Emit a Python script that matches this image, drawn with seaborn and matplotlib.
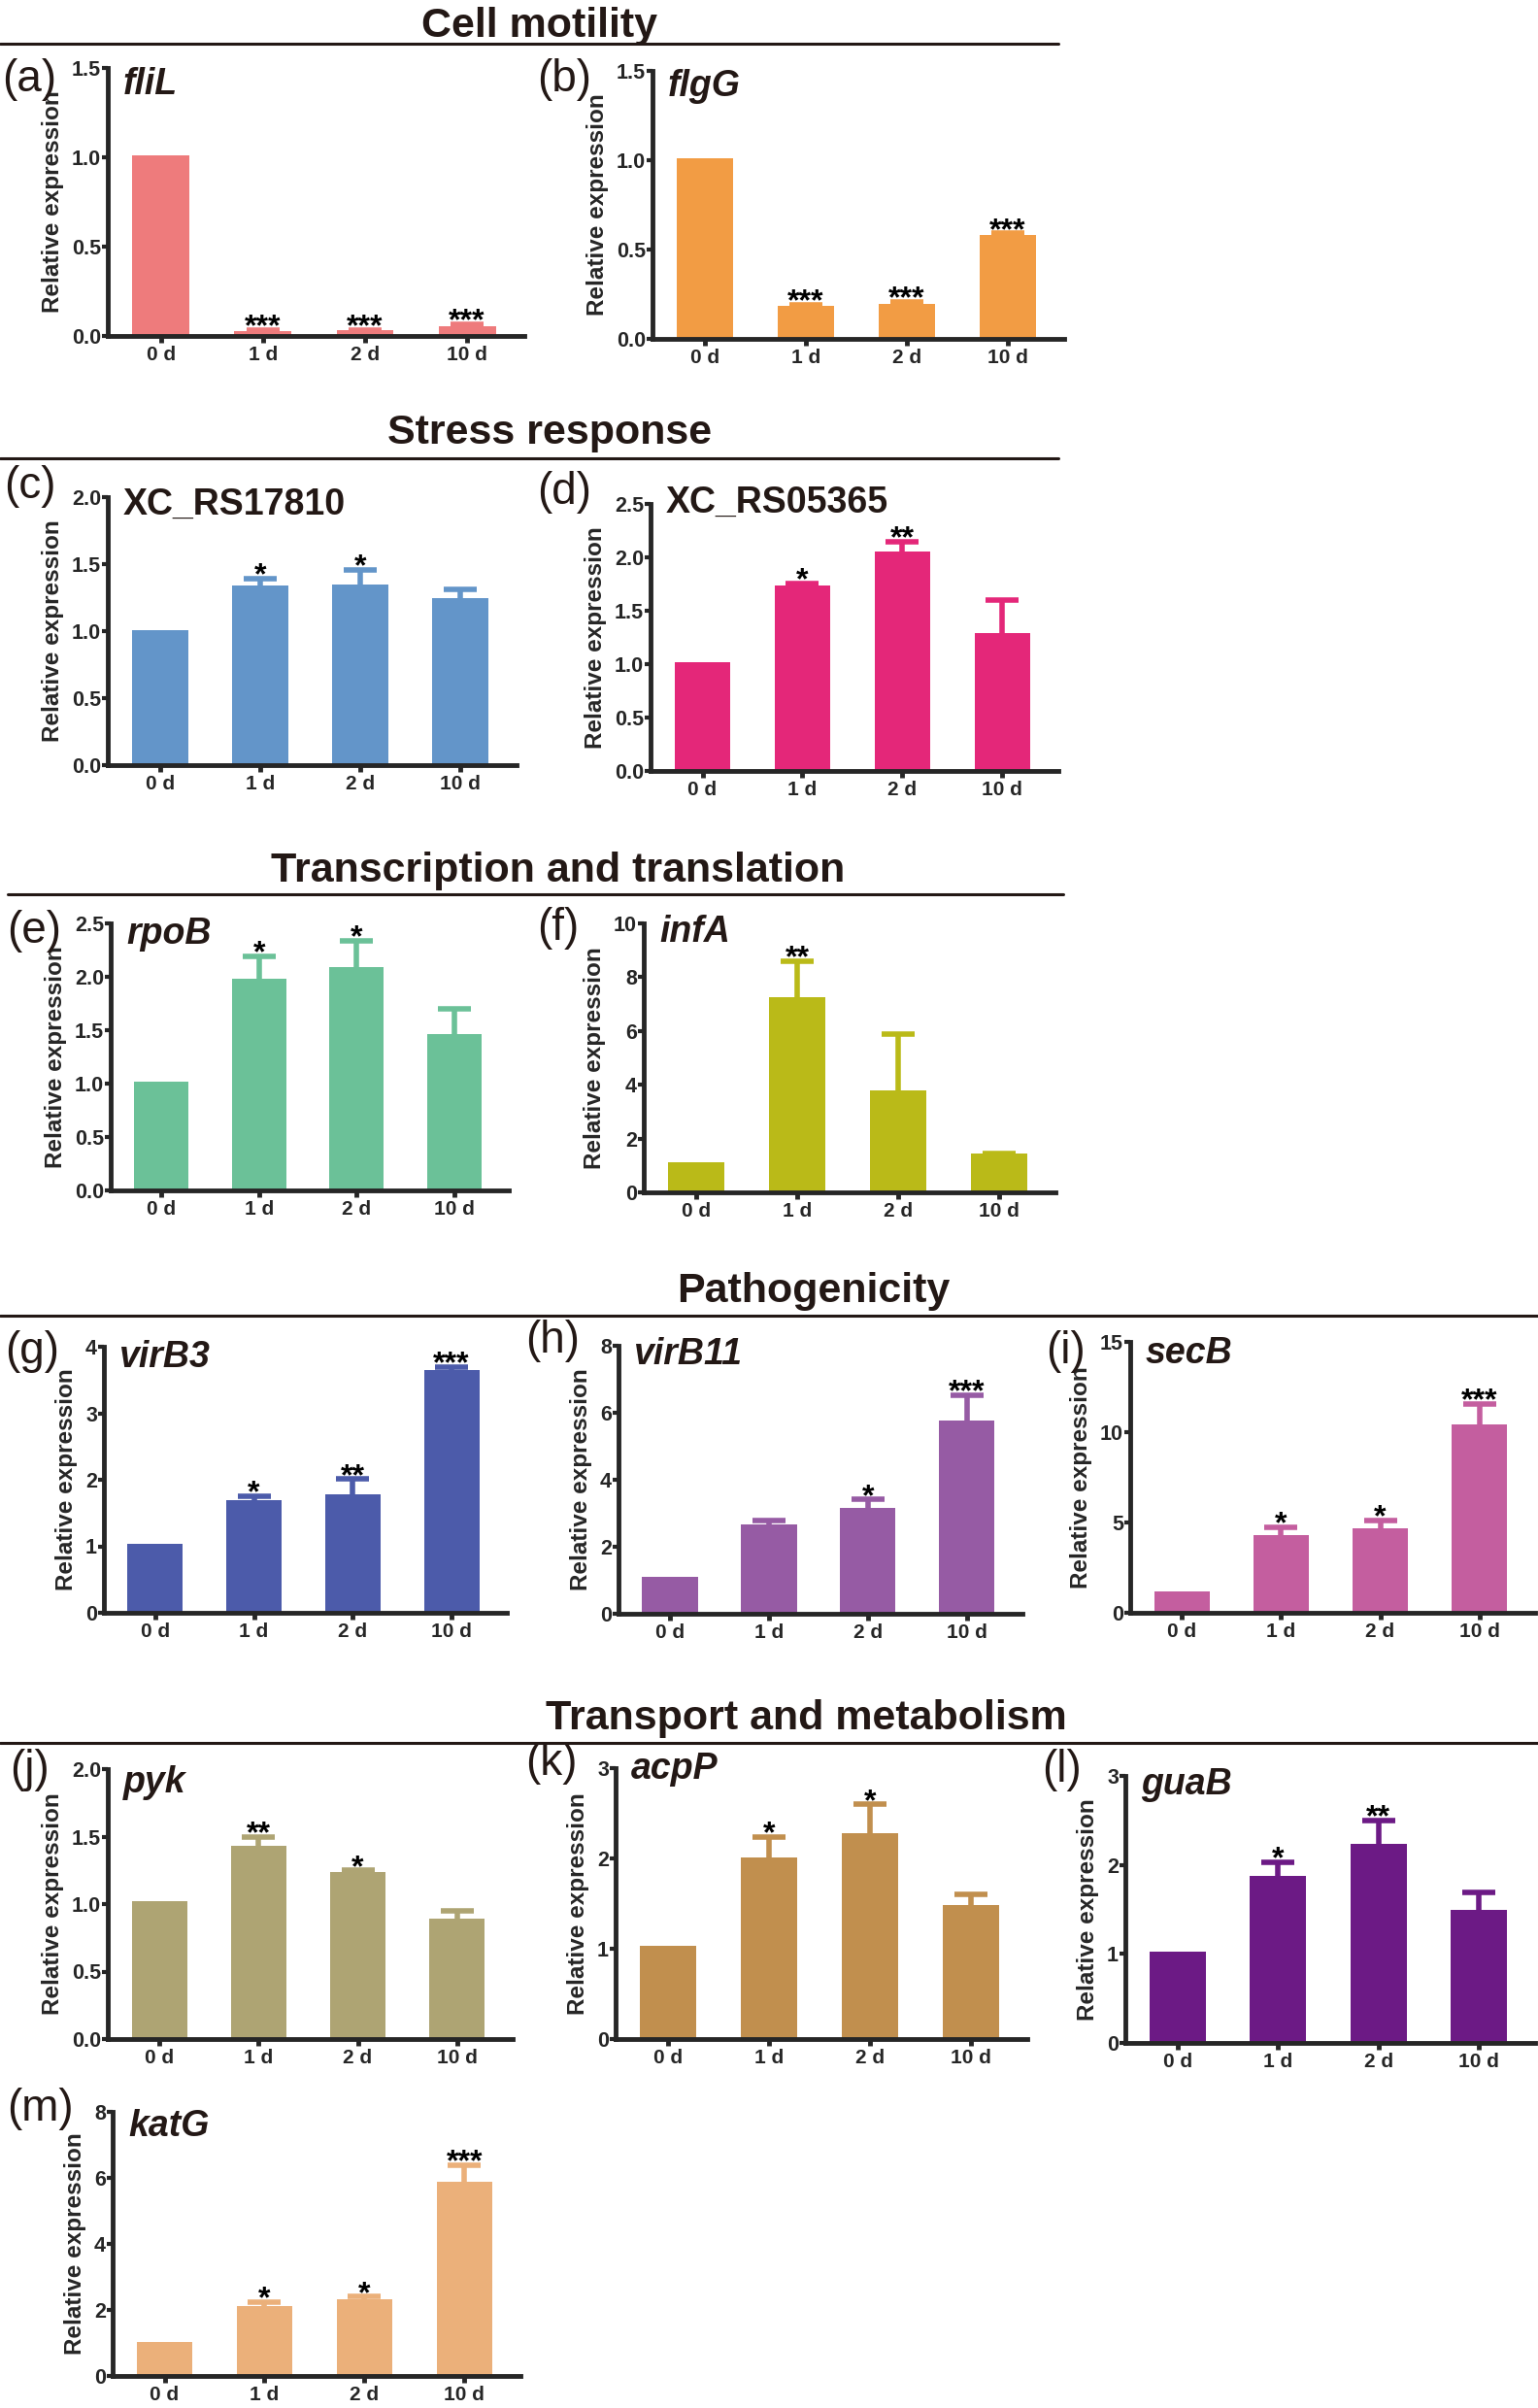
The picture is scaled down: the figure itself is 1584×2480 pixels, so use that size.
"""
qRT-PCR relative expression panels, grouped by functional category.
"""

import numpy as np
import matplotlib
matplotlib.use("Agg")
import matplotlib.pyplot as plt
from matplotlib.lines import Line2D
import seaborn as sns

# ---------------------------------------------------------------- data
days = ["0 d", "1 d", "2 d", "10 d"]

fliL_mean = [1.01, 0.028, 0.030, 0.057]
fliL_err = [0, 0.005, 0.005, 0.010]
fliL_sig = ["", "***", "***", "***"]

flgG_mean = [1.01, 0.186, 0.196, 0.58]
flgG_err = [0, 0.005, 0.010, 0.010]
flgG_sig = ["", "***", "***", "***"]

rs17810_mean = [1.01, 1.34, 1.35, 1.25]
rs17810_err = [0, 0.05, 0.11, 0.06]
rs17810_sig = ["", "*", "*", ""]

rs05365_mean = [1.02, 1.74, 2.055, 1.29]
rs05365_err = [0, 0.015, 0.095, 0.31]
rs05365_sig = ["", "*", "**", ""]

rpoB_mean = [1.02, 1.98, 2.09, 1.46]
rpoB_err = [0, 0.21, 0.25, 0.24]
rpoB_sig = ["", "*", "*", ""]

infA_mean = [1.12, 7.26, 3.78, 1.43]
infA_err = [0, 1.34, 2.11, 0.03]
infA_sig = ["", "**", "", ""]

virB3_mean = [1.03, 1.69, 1.78, 3.65]
virB3_err = [0, 0.06, 0.23, 0.05]
virB3_sig = ["", "*", "**", "***"]

virB11_mean = [1.09, 2.68, 3.15, 5.78]
virB11_err = [0, 0.11, 0.26, 0.75]
virB11_sig = ["", "", "*", "***"]

secB_mean = [1.18, 4.31, 4.67, 10.42]
secB_err = [0, 0.42, 0.46, 1.16]
secB_sig = ["", "*", "*", "***"]

pyk_mean = [1.02, 1.43, 1.24, 0.89]
pyk_err = [0, 0.07, 0.01, 0.06]
pyk_sig = ["", "**", "*", ""]

acpP_mean = [1.03, 2.01, 2.28, 1.48]
acpP_err = [0, 0.23, 0.32, 0.12]
acpP_sig = ["", "*", "*", ""]

guaB_mean = [1.03, 1.88, 2.24, 1.49]
guaB_err = [0, 0.15, 0.26, 0.20]
guaB_sig = ["", "*", "**", ""]

katG_mean = [1.03, 2.11, 2.33, 5.88]
katG_err = [0, 0.13, 0.07, 0.50]
katG_sig = ["", "*", "*", "***"]

sections = ["Cell motility", "Stress response", "Transcription and translation",
            "Pathogenicity", "Transport and metabolism"]

# ---------------------------------------------------------------- layout
FIG_W, FIG_H = 1584, 2480
TEXT = "#231815"

# (centre x, baseline y, line y, line x0, line x1) in pixels
section_layout = [
    (555, 38, 45, 0, 1090),
    (566, 457, 472, 0, 1090),
    (575, 908, 921, 8, 1095),
    (838, 1341, 1355, 0, 1584),
    (830, 1781, 1795, 0, 1584),
]

# panel: (letter, gene, italic, mean, err, sig, colour, ymax, ystep,
#         axes box L R T B, label x, label y, gene y)
panels = [
    ("(a)", "fliL", True, fliL_mean, fliL_err, fliL_sig, "#EE7B7C", 1.5, 0.5,
     (111, 540, 70, 346), 2, 82, 87),
    ("(b)", "flgG", True, flgG_mean, flgG_err, flgG_sig, "#F29C44", 1.5, 0.5,
     (672, 1096, 73, 349), 553, 82, 89),
    ("(c)", "XC_RS17810", False, rs17810_mean, rs17810_err, rs17810_sig, "#6395C9", 2.0, 0.5,
     (111, 532, 512, 788), 4, 501, 520),
    ("(d)", "XC_RS05365", False, rs05365_mean, rs05365_err, rs05365_sig, "#E42779", 2.5, 0.5,
     (670, 1090, 519, 794), 553, 507, 518),
    ("(e)", "rpoB", True, rpoB_mean, rpoB_err, rpoB_sig, "#6BC198", 2.5, 0.5,
     (114, 524, 951, 1226), 7, 959, 962),
    ("(f)", "infA", True, infA_mean, infA_err, infA_sig, "#BABA18", 10, 2,
     (663, 1087, 951, 1228), 553, 956, 960),
    ("(g)", "virB3", True, virB3_mean, virB3_err, virB3_sig, "#4C5BAA", 4, 1,
     (107, 522, 1387, 1661), 5, 1392, 1398),
    ("(h)", "virB11", True, virB11_mean, virB11_err, virB11_sig, "#965BA4", 8, 2,
     (637, 1053, 1386, 1662), 541, 1381, 1395),
    ("(i)", "secB", True, secB_mean, secB_err, secB_sig, "#C45E9F", 15, 5,
     (1164, 1581, 1382, 1661), 1077, 1392, 1394),
    ("(j)", "pyk", True, pyk_mean, pyk_err, pyk_sig, "#AEA473", 2.0, 0.5,
     (111, 528, 1822, 2100), 10, 1823, 1836),
    ("(k)", "acpP", True, acpP_mean, acpP_err, acpP_sig, "#C18F4E", 3, 1,
     (634, 1058, 1821, 2100), 541, 1816, 1822),
    ("(l)", "guaB", True, guaB_mean, guaB_err, guaB_sig, "#6C1A85", 3, 1,
     (1159, 1581, 1829, 2104), 1073, 1823, 1838),
    ("(m)", "katG", True, katG_mean, katG_err, katG_sig, "#EBB07A", 8, 2,
     (116, 536, 2175, 2447), 7, 2172, 2190),
]

sns.set_style("ticks")
plt.rcParams["font.family"] = ["Liberation Sans", "DejaVu Sans"]

fig = plt.figure(figsize=(FIG_W / 100, FIG_H / 100), dpi=100)


def fx(x):
    return x / FIG_W


def fy(y):
    return 1 - y / FIG_H


def draw_panel(ax, mean, err, sig, color, ymax, ystep):
    sns.barplot(x=days, y=mean, color=color, saturation=1, width=0.56,
                errorbar=None, edgecolor="none", ax=ax)

    xs = np.arange(len(days))
    mean = np.asarray(mean, dtype=float)
    err = np.asarray(err, dtype=float)
    has = err > 0
    eb = ax.errorbar(xs[has], mean[has], yerr=[np.zeros(has.sum()), err[has]],
                     fmt="none", ecolor=color, elinewidth=4, capsize=12,
                     capthick=4, zorder=3)
    # only keep the upper cap (GraphPad style)
    for cap in eb.lines[1]:
        if np.allclose(cap.get_ydata(), mean[has]):
            cap.set_visible(False)

    for i, s in enumerate(sig):
        if s:
            ax.annotate(s, (i, mean[i] + err[i]), xytext=(0, -4),
                        textcoords="offset points", ha="center", va="baseline",
                        fontsize=23, fontweight="bold", color="black")

    ax.set_xlim(-0.52, 3.56)
    ax.set_ylim(0, ymax)
    ticks = np.arange(0, ymax + ystep / 2, ystep)
    ax.set_yticks(ticks)
    if float(ystep).is_integer():
        ax.set_yticklabels([f"{t:.0f}" for t in ticks])
    else:
        ax.set_yticklabels([f"{t:.1f}" for t in ticks])

    sns.despine(ax=ax)
    for side in ("left", "bottom"):
        ax.spines[side].set_linewidth(3.5)
        ax.spines[side].set_capstyle("projecting")
    ax.tick_params(axis="y", length=4, width=3, labelsize=15.5, pad=1)
    ax.tick_params(axis="x", length=5, width=3.5, labelsize=15, pad=2)
    for lbl in ax.get_xticklabels() + ax.get_yticklabels():
        lbl.set_fontweight("bold")
    ax.set_xlabel("")
    ax.set_ylabel("Relative expression", fontsize=17.5, fontweight="bold",
                  labelpad=6)


for (letter, gene, italic, mean, err, sig, color, ymax, ystep,
     box, lab_x, lab_y, gene_y) in panels:
    left, right, top, bottom = box
    ax = fig.add_axes([fx(left), fy(bottom), (right - left) / FIG_W,
                       (bottom - top) / FIG_H])
    draw_panel(ax, mean, err, sig, color, ymax, ystep)
    fig.text(fx(lab_x), fy(lab_y), letter, ha="left", va="center",
             fontsize=33, color=TEXT)
    fig.text(fx(left + 16), fy(gene_y), gene, ha="left", va="center",
             fontsize=27, fontweight="bold",
             fontstyle="italic" if italic else "normal", color=TEXT)

for title, (cx, base_y, line_y, x0, x1) in zip(sections, section_layout):
    fig.text(fx(cx), fy(base_y), title, ha="center", va="baseline",
             fontsize=31, fontweight="bold", color=TEXT)
    fig.add_artist(Line2D([fx(x0), fx(x1)], [fy(line_y), fy(line_y)],
                          color=TEXT, linewidth=2.2))

fig.savefig("out.png", dpi=100)
